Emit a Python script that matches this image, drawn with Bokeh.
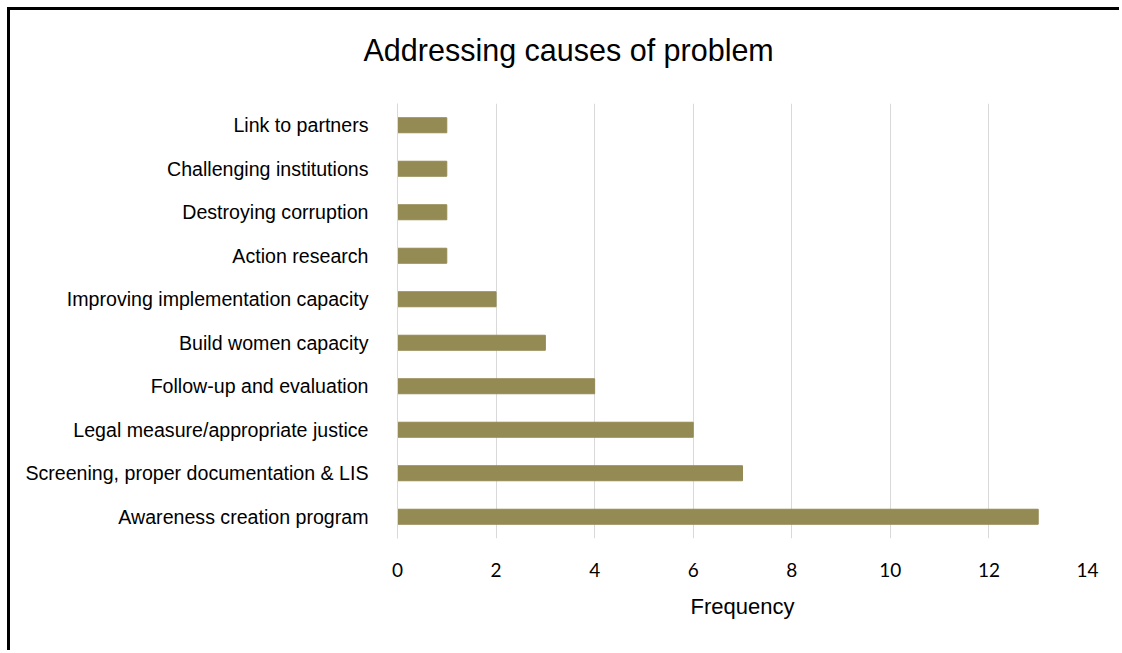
from bokeh.plotting import figure
from bokeh.models import Title, Range1d, FixedTicker
from bokeh.embed import file_html
from bokeh.resources import INLINE

# Responses, listed bottom-to-top as they appear on the chart
categories = [
    "Awareness creation program",
    "Screening, proper documentation & LIS",
    "Legal measure/appropriate justice",
    "Follow-up and evaluation",
    "Build women capacity",
    "Improving implementation capacity",
    "Action research",
    "Destroying corruption",
    "Challenging institutions",
    "Link to partners",
]
frequency = [13, 7, 6, 4, 3, 2, 1, 1, 1, 1]
x_ticks = [0, 2, 4, 6, 8, 10, 12, 14]

BAR = "#948A54"
GRID = "#D9D9D9"
LABEL_FONT = "Liberation Sans"

p = figure(
    width=1112, height=643,
    y_range=categories,
    x_range=Range1d(0, 14),
    output_backend="svg",
    toolbar_location=None,
    min_border_left=387, min_border_right=35,
    min_border_top=93, min_border_bottom=115,
)
p.margin = (7, 0, 0, 7)
p.styles = {"border-left": "3px solid #000", "border-top": "3px solid #000"}

p.hbar(y=categories, right=frequency, height=0.345, color=BAR)

# blank band between the frame and the chart title
p.add_layout(Title(text=" ", text_font=LABEL_FONT, text_font_size="31px",
                   standoff=0), "above")
p.add_layout(Title(text="Addressing causes of problem", align="left",
                   offset=-34,
                   text_font=LABEL_FONT, text_font_size="30.5px",
                   text_font_style="normal", text_color="#000",
                   standoff=0), "above")

p.outline_line_color = None
p.background_fill_color = "white"
p.border_fill_color = "white"

p.xaxis.ticker = FixedTicker(ticks=x_ticks)
p.xaxis.axis_line_color = None
p.xaxis.major_tick_line_color = None
p.xaxis.minor_tick_line_color = None
p.xaxis.major_label_text_font = "Lato"
p.xaxis.major_label_text_font_size = "19px"
p.xaxis.major_label_text_color = "#000"
p.xaxis.major_label_standoff = 18
p.xaxis.axis_label = "Frequency"
p.xaxis.axis_label_text_font = LABEL_FONT
p.xaxis.axis_label_text_font_size = "22px"
p.xaxis.axis_label_text_font_style = "normal"
p.xaxis.axis_label_text_color = "#000"
p.xaxis.axis_label_standoff = 14

p.yaxis.axis_line_color = GRID
p.yaxis.axis_line_width = 1
p.yaxis.major_tick_line_color = None
p.yaxis.minor_tick_line_color = None
p.yaxis.major_label_text_font = LABEL_FONT
p.yaxis.major_label_text_font_size = "19.6px"
p.yaxis.major_label_text_color = "#000"
p.yaxis.major_label_standoff = 23

p.xgrid.grid_line_color = GRID
p.xgrid.grid_line_width = 1
p.ygrid.grid_line_color = None

open("out.html", "w").write(file_html(p, INLINE))
